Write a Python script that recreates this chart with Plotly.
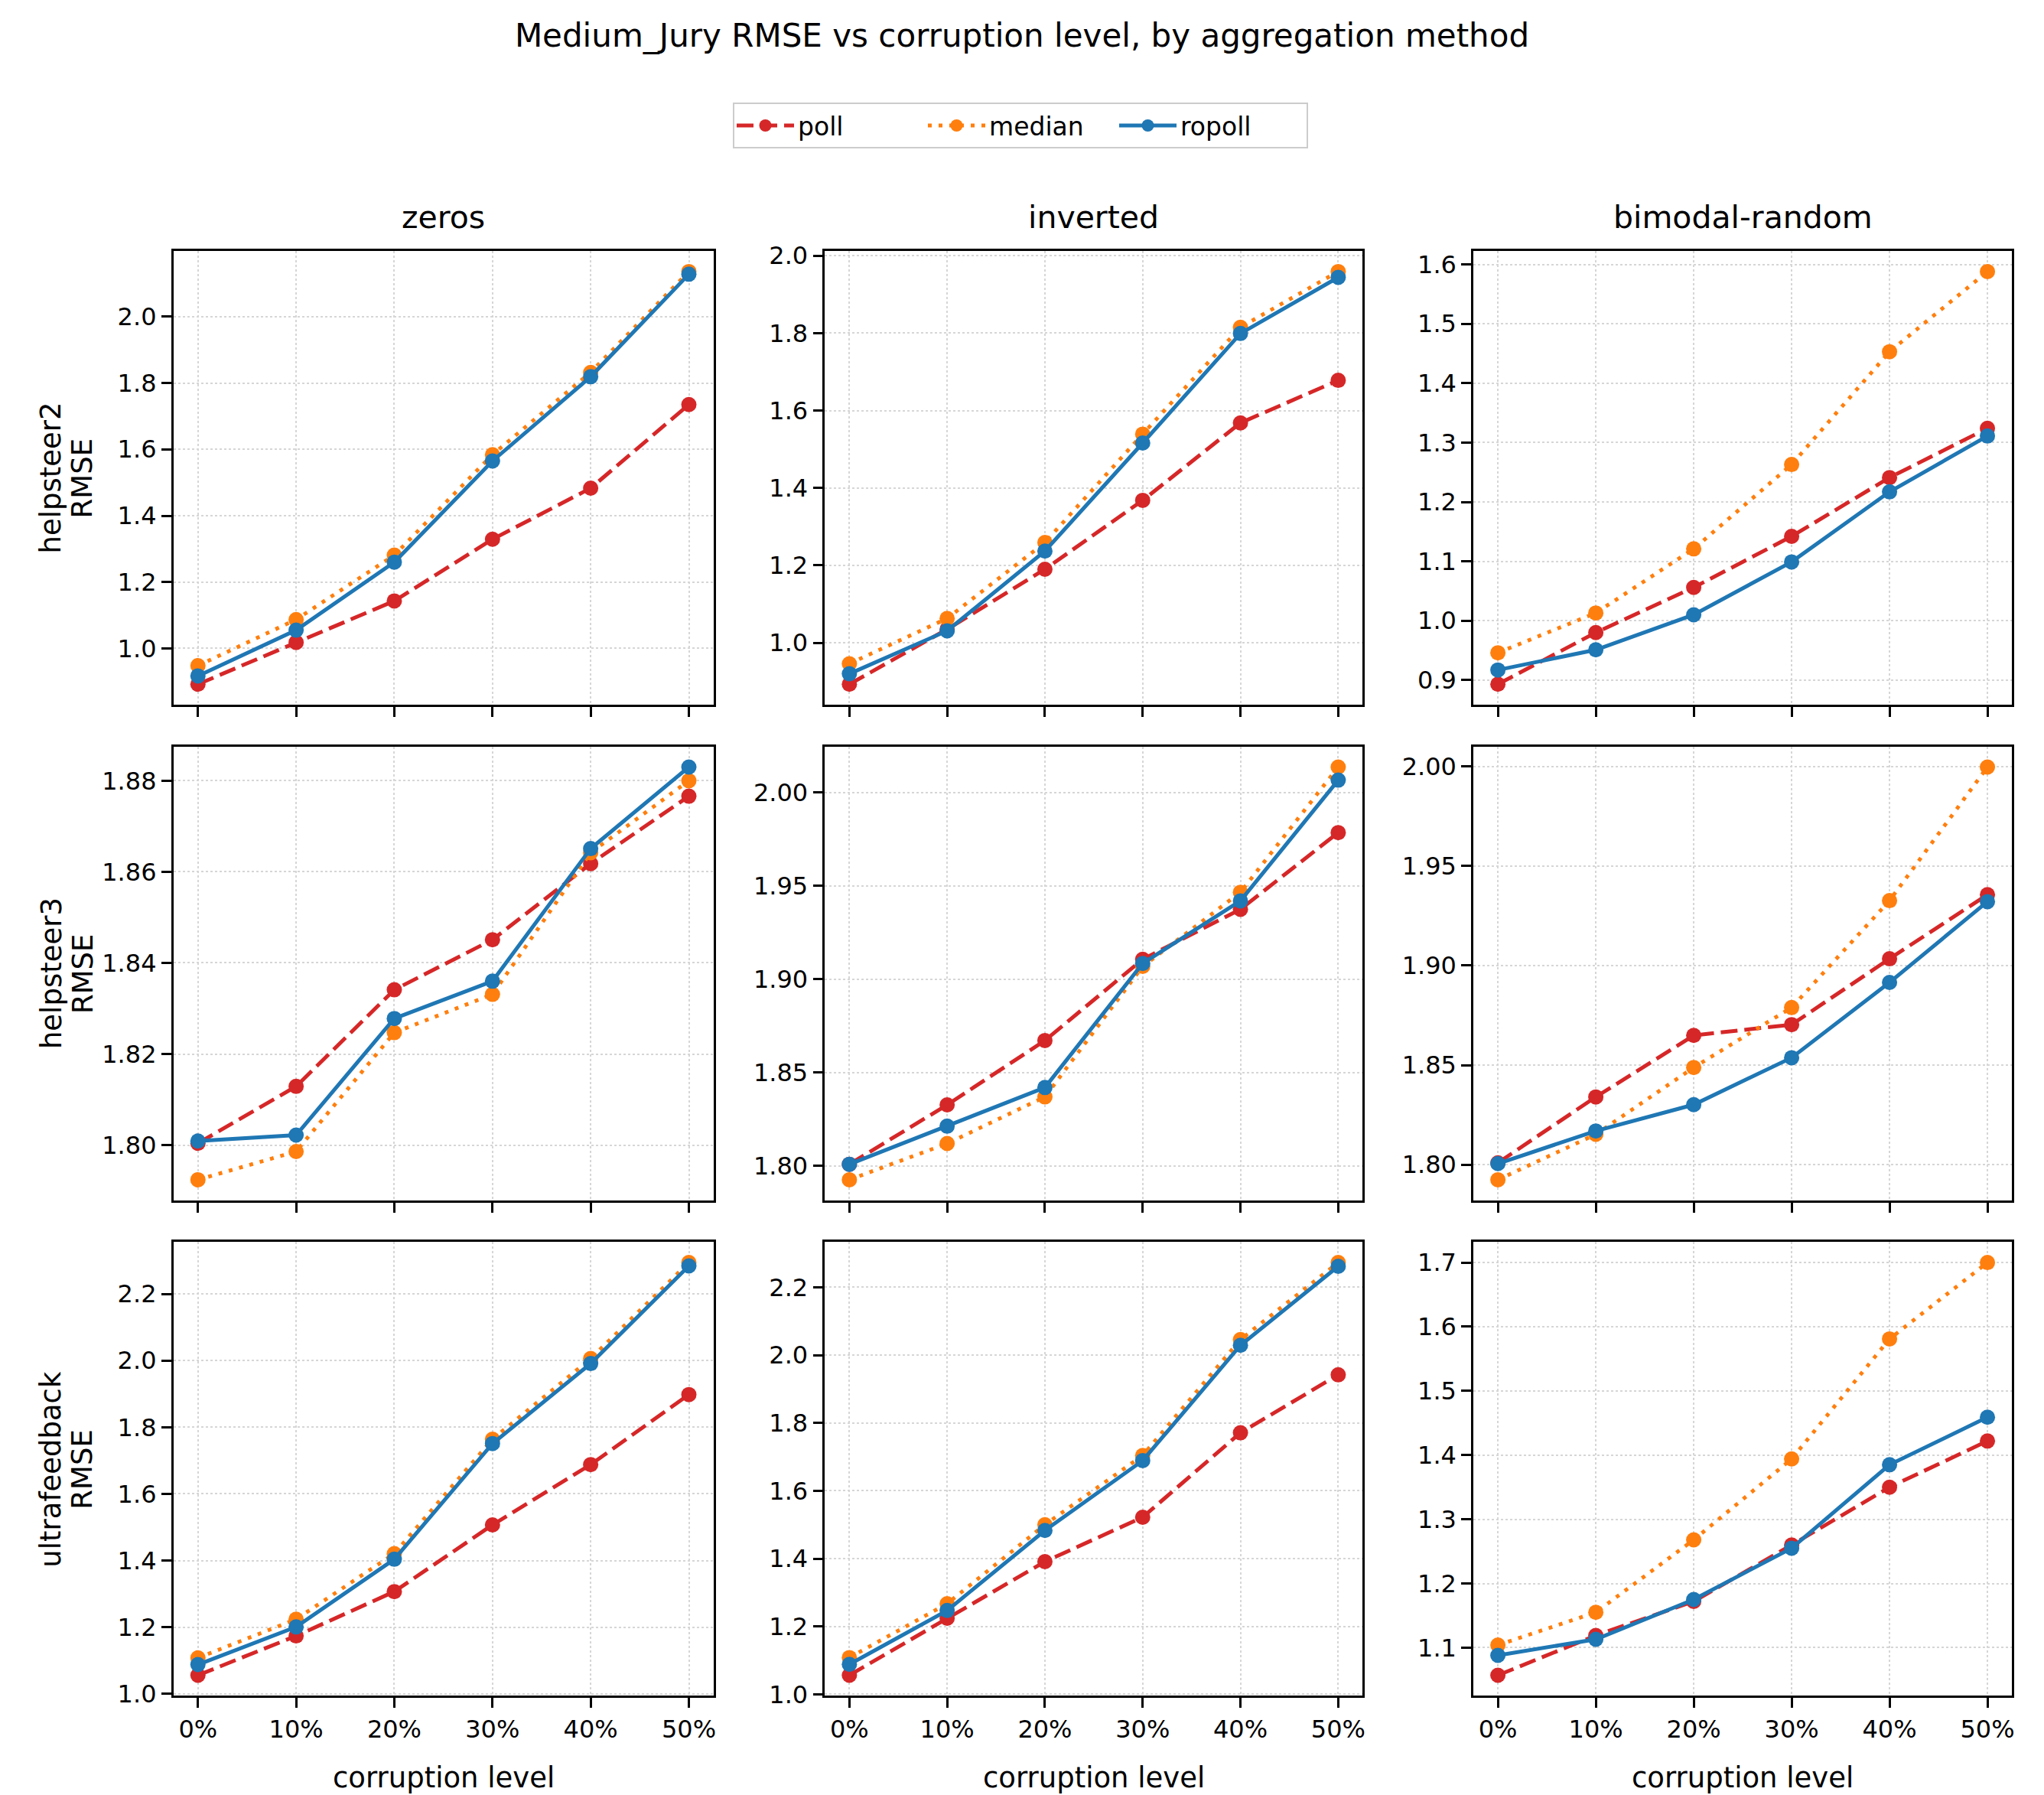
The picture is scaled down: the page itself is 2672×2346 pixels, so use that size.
import plotly.graph_objects as go

# ---------------- data ----------------
levels = ["0%", "10%", "20%", "30%", "40%", "50%"]
datasets = ["helpsteer2", "helpsteer3", "ultrafeedback"]
corruptions = ["zeros", "inverted", "bimodal-random"]
methods = ["poll", "median", "ropoll"]
ylabel = "RMSE"

hs2_zeros_poll = [0.892, 1.018, 1.143, 1.329, 1.483, 1.735]
hs2_zeros_median = [0.948, 1.087, 1.281, 1.584, 1.832, 2.136]
hs2_zeros_ropoll = [0.917, 1.055, 1.260, 1.565, 1.819, 2.128]

hs2_inverted_poll = [0.893, 1.035, 1.190, 1.368, 1.568, 1.678]
hs2_inverted_median = [0.946, 1.063, 1.259, 1.539, 1.815, 1.959]
hs2_inverted_ropoll = [0.920, 1.031, 1.237, 1.516, 1.799, 1.944]

hs2_bimodal_poll = [0.893, 0.980, 1.056, 1.142, 1.241, 1.324]
hs2_bimodal_median = [0.946, 1.013, 1.121, 1.263, 1.453, 1.588]
hs2_bimodal_ropoll = [0.917, 0.951, 1.010, 1.099, 1.217, 1.311]

hs3_zeros_poll = [1.8004, 1.8129, 1.8341, 1.8451, 1.8618, 1.8766]
hs3_zeros_median = [1.7924, 1.7986, 1.8247, 1.8331, 1.8642, 1.8800]
hs3_zeros_ropoll = [1.8009, 1.8022, 1.8278, 1.8360, 1.8651, 1.8830]

hs3_inverted_poll = [1.8008, 1.8326, 1.8671, 1.9106, 1.9374, 1.9785]
hs3_inverted_median = [1.7925, 1.8119, 1.8369, 1.9068, 1.9465, 2.0136]
hs3_inverted_ropoll = [1.8008, 1.8212, 1.8419, 1.9084, 1.9419, 2.0066]

hs3_bimodal_poll = [1.8009, 1.8340, 1.8649, 1.8703, 1.9034, 1.9356]
hs3_bimodal_median = [1.7924, 1.8152, 1.8488, 1.8789, 1.9326, 1.9997]
hs3_bimodal_ropoll = [1.8005, 1.8169, 1.8301, 1.8537, 1.8915, 1.9321]

uf_zeros_poll = [1.056, 1.174, 1.307, 1.507, 1.688, 1.898]
uf_zeros_median = [1.108, 1.224, 1.421, 1.764, 2.006, 2.294]
uf_zeros_ropoll = [1.088, 1.201, 1.404, 1.751, 1.991, 2.284]

uf_inverted_poll = [1.056, 1.224, 1.391, 1.522, 1.771, 1.942]
uf_inverted_median = [1.108, 1.267, 1.500, 1.704, 2.046, 2.273]
uf_inverted_ropoll = [1.088, 1.247, 1.483, 1.689, 2.029, 2.262]

uf_bimodal_poll = [1.057, 1.119, 1.172, 1.260, 1.350, 1.422]
uf_bimodal_median = [1.104, 1.155, 1.268, 1.394, 1.581, 1.700]
uf_bimodal_ropoll = [1.088, 1.113, 1.175, 1.255, 1.385, 1.459]

panels = [
    [(hs2_zeros_poll, hs2_zeros_median, hs2_zeros_ropoll),
     (hs2_inverted_poll, hs2_inverted_median, hs2_inverted_ropoll),
     (hs2_bimodal_poll, hs2_bimodal_median, hs2_bimodal_ropoll)],
    [(hs3_zeros_poll, hs3_zeros_median, hs3_zeros_ropoll),
     (hs3_inverted_poll, hs3_inverted_median, hs3_inverted_ropoll),
     (hs3_bimodal_poll, hs3_bimodal_median, hs3_bimodal_ropoll)],
    [(uf_zeros_poll, uf_zeros_median, uf_zeros_ropoll),
     (uf_inverted_poll, uf_inverted_median, uf_inverted_ropoll),
     (uf_bimodal_poll, uf_bimodal_median, uf_bimodal_ropoll)],
]

# ---------------- style ----------------
W, H = 2672, 2346
FONT = "DejaVu Sans"
colors = {"poll": "#d62728", "median": "#ff7f0e", "ropoll": "#1f77b4"}
dashes = {"poll": "22px,9px", "median": "5px,9px", "ropoll": "solid"}
LW = 5
MS = 20

col_px = [(227, 934), (1080, 1784), (1929, 2634)]
row_px = [(319, 920), (975, 1576), (1631, 2232)]
dticks = [[0.2, 0.2, 0.1], [0.02, 0.05, 0.05], [0.2, 0.2, 0.1]]
yfmts = [[".1f"] * 3, [".2f"] * 3, [".1f"] * 3]

fig = go.Figure()
layout = {}
annotations = []

for r in range(3):
    for c in range(3):
        k = r * 3 + c
        sfx = "" if k == 0 else str(k + 1)
        series = panels[r][c]
        for m, vals in zip(methods, series):
            fig.add_trace(go.Scatter(
                x=levels, y=vals, mode="lines+markers", name=m,
                legendgroup=m, showlegend=(k == 0),
                line=dict(color=colors[m], width=LW, dash=dashes[m]),
                marker=dict(color=colors[m], size=MS),
                xaxis="x" + sfx, yaxis="y" + sfx,
            ))
        allv = [v for s in series for v in s]
        lo, hi = min(allv), max(allv)
        pad = 0.05 * (hi - lo)
        x0, x1 = col_px[c]
        y0, y1 = row_px[r]
        common = dict(
            showline=True, linecolor="black", linewidth=2.5, mirror=True,
            ticks="outside", ticklen=13, tickwidth=2.5, tickcolor="black",
            showgrid=True, gridcolor="#d6d6d6", gridwidth=2, griddash="dot",
            zeroline=False,
            tickfont=dict(family=FONT, size=32, color="black"),
        )
        layout["xaxis" + sfx] = dict(
            common, domain=[x0 / W, x1 / W], anchor="y" + sfx,
            type="category", categoryorder="array", categoryarray=levels,
            range=[-0.25, len(levels) - 0.75],
            showticklabels=(r == 2),
        )
        layout["yaxis" + sfx] = dict(
            common, domain=[1 - y1 / H, 1 - y0 / H], anchor="x" + sfx,
            range=[lo - pad, hi + pad], dtick=dticks[r][c], tick0=0,
            tickformat=yfmts[r][c],
        )

# column titles and x-axis titles
for c in range(3):
    x0, x1 = col_px[c]
    annotations.append(dict(
        text=corruptions[c], x=(x0 + x1) / 2 / W, y=1 - 275 / H,
        xref="paper", yref="paper", xanchor="center", yanchor="middle",
        showarrow=False, font=dict(family=FONT, size=41, color="black")))
    annotations.append(dict(
        text="corruption level", x=(x0 + x1) / 2 / W, y=1 - 2340 / H,
        xref="paper", yref="paper", xanchor="center", yanchor="middle",
        showarrow=False, font=dict(family=FONT, size=37, color="black")))

# row labels (two-line y labels, matplotlib-like line spacing)
for r in range(3):
    y0, y1 = row_px[r]
    yc = 1 - (y0 + y1) / 2 / H
    for txt, xp in ((datasets[r], 67), (ylabel, 108)):
        annotations.append(dict(
            text=txt, x=xp / W, y=yc,
            xref="paper", yref="paper", xanchor="center", yanchor="middle",
            textangle=-90, showarrow=False,
            font=dict(family=FONT, size=37, color="black")))

layout.update(
    width=W, height=H,
    margin=dict(l=0, r=0, t=0, b=0),
    paper_bgcolor="white", plot_bgcolor="white",
    title=dict(text="Medium_Jury RMSE vs corruption level, by aggregation method",
               x=0.5, xanchor="center", y=1 - 46 / H, yanchor="middle",
               font=dict(family=FONT, size=42, color="black")),
    legend=dict(orientation="h", x=0.5, y=1 - 153 / H, xanchor="center",
                yanchor="middle", bordercolor="#cccccc", borderwidth=2,
                bgcolor="white", itemwidth=75, entrywidth=160,
                font=dict(family=FONT, size=33, color="black")),
    annotations=annotations,
    font=dict(family=FONT, color="black"),
)
fig.update_layout(**layout)
fig.write_html("out.html")
